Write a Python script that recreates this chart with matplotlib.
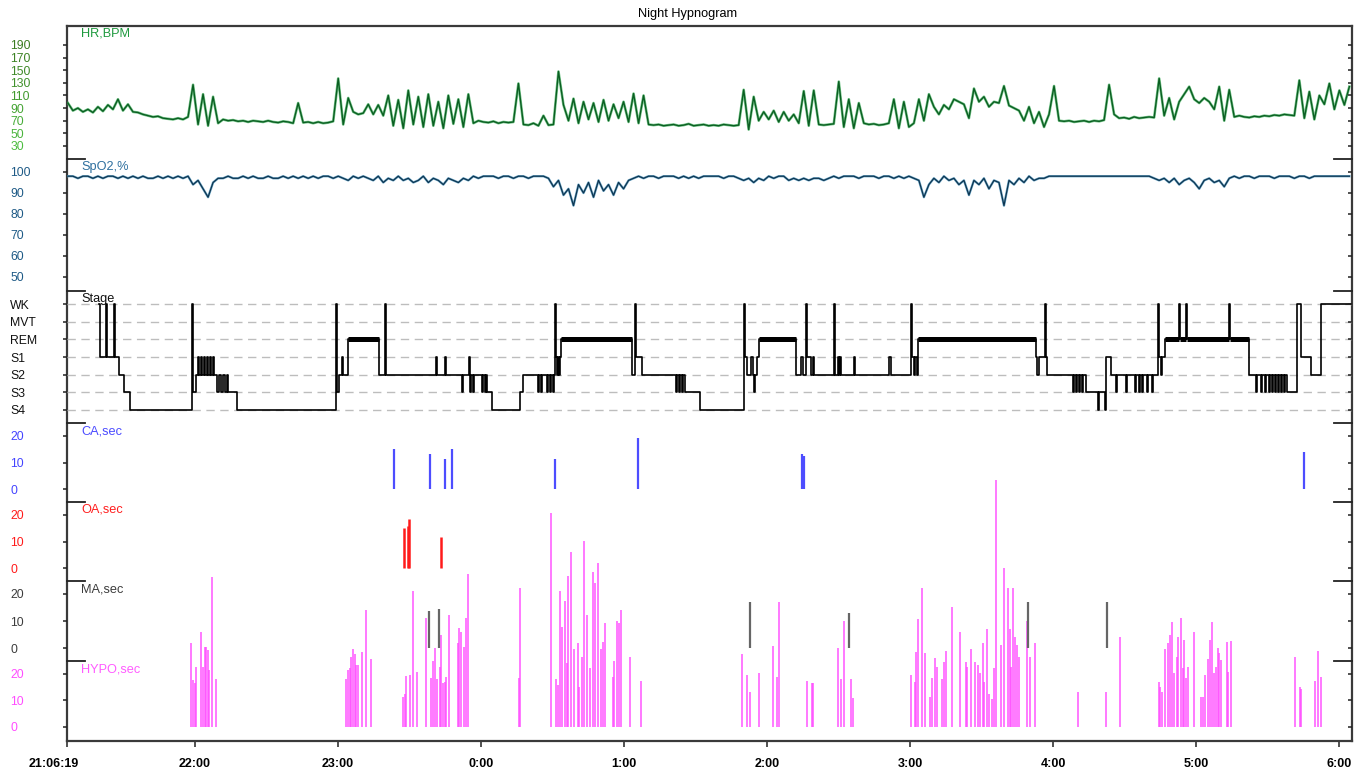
import numpy as np
import matplotlib
matplotlib.use('Agg')
import matplotlib.pyplot as plt
from matplotlib.transforms import ScaledTranslation

plt.rcParams['font.family'] = ['Liberation Sans', 'DejaVu Sans']

# ---------------- data (time unit: minutes after 21:00) ----------------
REC_START = 6.32          # 21:06:19
REC_END = 545.4
TICK_POS = [6.32, 60, 120, 180, 240, 300, 360, 420, 480, 540]
TICK_LABELS = ['21:06:19', '22:00', '23:00', '0:00', '1:00', '2:00', '3:00', '4:00', '5:00', '6:00']

SAMPLE_T0 = 6.7           # first HR / SpO2 sample
SAMPLE_DT = 2.1           # minutes between samples

HR = [98, 86, 90, 84, 88, 83, 92, 85, 95, 88,
      104, 86, 96, 84, 83, 80, 78, 76, 77, 74,
      73, 72, 74, 72, 76, 127, 64, 112, 62, 108,
      66, 72, 70, 71, 69, 70, 68, 70, 69, 68,
      70, 68, 67, 69, 68, 66, 98, 67, 68, 66,
      68, 66, 67, 69, 137, 64, 106, 84, 80, 82,
      96, 80, 95, 78, 110, 62, 103, 58, 118, 64,
      108, 60, 112, 62, 100, 58, 110, 65, 104, 60,
      112, 66, 70, 68, 67, 69, 66, 68, 67, 68,
      129, 64, 63, 66, 62, 78, 63, 64, 148, 95,
      70, 105, 66, 100, 72, 98, 68, 103, 70, 96,
      74, 100, 68, 113, 66, 110, 64, 63, 64, 62,
      63, 64, 62, 63, 65, 62, 63, 64, 62, 63,
      62, 64, 63, 62, 63, 119, 56, 108, 70, 84,
      72, 86, 68, 84, 70, 80, 66, 117, 62, 118,
      64, 63, 64, 65, 132, 60, 104, 58, 98, 66,
      64, 65, 63, 64, 66, 104, 58, 100, 60, 66,
      104, 70, 112, 92, 80, 95, 88, 104, 100, 96,
      74, 121, 100, 108, 92, 100, 98, 125, 94, 90,
      86, 70, 92, 66, 84, 60, 80, 125, 70, 69,
      70, 68, 69, 70, 68, 70, 69, 71, 127, 80,
      74, 75, 73, 76, 74, 75, 76, 75, 137, 78,
      106, 72, 100, 112, 124, 104, 98, 106, 100, 88,
      124, 70, 119, 76, 78, 76, 75, 77, 76, 78,
      77, 79, 78, 80, 79, 78, 134, 74, 116, 72,
      110, 96, 129, 88, 118, 95, 124]

SPO2 = [98, 98, 97, 98, 98, 97, 98, 97, 98, 98,
        97, 98, 97, 98, 97, 98, 97, 97, 98, 97,
        98, 97, 98, 97, 98, 94, 96, 92, 88, 95,
        97, 97, 98, 97, 97, 98, 97, 98, 97, 97,
        98, 97, 97, 98, 97, 98, 97, 98, 97, 98,
        97, 98, 98, 97, 98, 97, 96, 98, 97, 98,
        97, 96, 98, 95, 97, 96, 98, 96, 97, 95,
        96, 98, 95, 97, 96, 94, 97, 96, 95, 97,
        96, 98, 97, 98, 98, 98, 97, 98, 98, 97,
        98, 98, 97, 98, 98, 98, 97, 93, 96, 89,
        92, 84, 94, 90, 95, 88, 96, 91, 94, 89,
        95, 92, 96, 97, 98, 97, 98, 98, 97, 98,
        98, 98, 97, 98, 97, 98, 97, 98, 98, 98,
        98, 97, 98, 98, 97, 96, 97, 95, 97, 96,
        98, 97, 98, 98, 96, 97, 96, 97, 96, 97,
        97, 96, 97, 98, 97, 98, 98, 98, 97, 98,
        98, 98, 97, 98, 98, 97, 98, 97, 98, 97,
        96, 88, 94, 97, 95, 98, 96, 97, 94, 96,
        89, 96, 94, 97, 92, 96, 95, 84, 96, 94,
        97, 95, 98, 96, 97, 97, 98, 98, 98, 98,
        98, 98, 98, 98, 98, 98, 98, 98, 98, 98,
        98, 98, 98, 98, 98, 98, 98, 97, 96, 97,
        95, 97, 94, 96, 97, 95, 92, 96, 97, 95,
        96, 93, 97, 98, 97, 98, 98, 97, 98, 98,
        98, 97, 98, 98, 98, 97, 98, 98, 97, 98,
        98, 98, 98, 98, 98, 98, 98]

STAGE_NAMES = ['S4', 'S3', 'S2', 'S1', 'REM', 'MVT', 'WK']
STAGE_T = [19.7, 20.1, 22.7, 23.1, 26.0, 26.4, 28.1, 30.2, 32.7, 58.7, 59.2, 60.4,
           61.3, 61.7, 62.5, 62.9, 63.8, 64.2, 65.0, 65.5, 66.3, 66.7, 67.6, 68.0,
           69.2, 70.1, 70.9, 71.7, 72.6, 73.4, 73.8, 77.6,
           119.2, 119.6, 120.4, 121.7, 122.1, 124.2, 137.2, 139.7, 140.1, 161.1, 161.5,
           164.9, 165.3, 172.0, 172.4, 175.0, 175.4, 175.8, 176.7, 177.1, 180.4, 180.8,
           181.7, 182.1, 182.5, 184.8,
           196.3, 197.5, 203.9, 204.3, 205.2, 205.6, 207.7, 208.1, 208.9, 209.4, 210.2,
           210.6, 211.0, 211.5, 211.9, 212.3, 212.7, 213.1, 213.7, 243.4, 244.6, 245.0,
           247.6, 261.8, 262.2, 263.1, 263.5, 264.3, 264.7, 265.6, 271.9,
           290.2, 290.8, 291.6, 293.3, 294.1, 294.5, 295.0, 295.8, 296.8, 312.2, 314.3,
           315.1, 316.4, 316.8, 318.5, 319.3, 319.7, 328.1, 328.5, 329.8, 330.2, 330.6,
           331.0, 336.5, 336.9, 351.2, 351.8, 360.4, 360.8, 361.7, 362.1, 362.9, 363.3,
           412.8, 413.3, 414.1, 416.7, 417.1, 417.5, 428.4, 428.8, 429.7, 430.1, 430.9,
           431.3, 432.2, 432.6, 433.9, 438.9, 439.3, 441.8, 442.2, 444.4, 446.5, 446.9,
           450.6, 451.0, 454.4, 454.8, 456.1, 456.5, 457.3, 457.7, 459.4, 459.8, 461.6,
           462.0, 464.1, 464.5, 465.3, 465.7, 467.0, 472.9, 473.3, 475.8, 476.2, 493.9,
           494.3, 502.3,
           505.2, 505.6, 507.3, 507.7, 509.0, 509.4, 510.7, 511.2, 512.0, 512.4, 513.3,
           513.7, 514.5, 514.9, 515.8, 516.2, 517.0, 517.4, 518.3, 522.3, 524.0, 528.2,
           532.4]
STAGE_V = [6, 3, 6, 3, 6, 3, 2, 1, 0, 6, 1, 2,
           3, 2, 3, 2, 3, 2, 3, 2, 3, 2, 3, 2,
           1, 2, 1, 2, 1, 2, 1, 0,
           6, 1, 2, 3, 2, 4, 2, 6, 2, 3, 2,
           3, 2, 1, 2, 3, 1, 2, 1, 2, 1, 2,
           1, 2, 1, 0,
           1, 2, 1, 2, 1, 2, 1, 2, 1, 2, 1,
           2, 6, 3, 2, 3, 2, 3, 4, 2, 6, 3,
           2, 1, 2, 1, 2, 1, 2, 1, 0,
           6, 3, 2, 3, 2, 1, 2, 3, 4, 2, 3,
           2, 6, 3, 2, 3, 2, 6, 2, 3, 2, 3,
           2, 3, 2, 3, 2, 6, 3, 2, 3, 2, 4,
           3, 2, 3, 6, 3, 2, 1, 2, 1, 2, 1,
           2, 1, 2, 1, 0, 1, 0, 3, 2, 1, 2,
           1, 2, 1, 2, 1, 2, 1, 2, 1, 2, 1,
           2, 6, 3, 2, 3, 4, 6, 4, 6, 4, 6,
           4, 2,
           1, 2, 1, 2, 1, 2, 1, 2, 1, 2, 1,
           2, 1, 2, 1, 2, 1, 2, 1, 6, 3, 2,
           6]

CA_T = [143.5, 158.6, 164.9, 167.8, 211.1, 245.9, 314.7, 315.3, 525.3]
CA_V = [15.1, 13.2, 11.4, 15.1, 11.4, 19.2, 13.2, 12.4, 14.0]

OA_T = [147.8, 149.5, 150.0, 163.1]
OA_V = [15.1, 16.0, 18.6, 11.8]

MA_T = [158.3, 162.2, 293.0, 334.5, 409.6, 442.8]
MA_V = [13.8, 14.4, 17.1, 12.8, 17.1, 17.1]

HYPO_T = [58.2, 59.3, 59.9, 60.5, 62.4, 63.5, 64.1, 64.8, 65.3, 65.9, 67.3, 68.7,
          123.2, 124.3, 125.0, 125.6, 126.3, 127.0, 127.7, 128.4, 130.2, 131.6, 133.7,
          147.2, 148.0, 148.7, 150.1, 151.5, 153.2, 157.1, 159.1, 159.9, 160.7, 161.4,
          162.7, 163.2, 164.1, 164.8, 165.4, 166.5, 170.3, 170.9, 171.8, 172.7, 173.5,
          174.4,
          196.0, 196.3, 209.3, 211.5, 212.2, 213.2, 214.1, 215.1, 216.0, 216.7, 217.7,
          218.9, 220.6, 221.3, 222.3, 223.2, 224.4, 225.9, 226.8, 227.8, 229.2, 230.3,
          231.2, 231.9, 235.3, 235.8, 237.0, 238.1, 238.7, 242.3, 247.3,
          289.6, 291.7, 292.7, 296.8, 302.7, 304.2, 305.1, 316.9, 318.8, 319.4, 329.9,
          330.9, 332.4, 335.3, 335.9,
          360.2, 361.9, 362.6, 363.5, 365.0, 366.2, 368.4, 369.3, 370.5, 371.5, 373.2,
          374.4, 375.1, 377.5, 381.1, 383.3, 384.0, 385.5, 387.3, 388.3, 389.5, 390.4,
          391.2, 392.1, 393.1, 394.3, 395.2, 396.0, 398.1, 399.5, 400.9, 401.8, 402.3,
          403.0, 404.0, 404.8, 405.5, 409.0, 410.3, 412.5,
          430.5, 442.4, 448.1,
          464.5, 464.9, 465.6, 466.9, 468.0, 469.0, 469.8, 470.8, 471.8, 472.6, 473.6,
          474.3, 475.0, 475.7, 476.8, 479.2, 482.0, 483.1, 483.8, 484.8, 485.8, 486.6,
          487.3, 488.3, 489.0, 489.7, 490.4, 492.9, 493.3, 494.6,
          521.6, 523.7, 524.2, 529.9, 531.2, 532.3]
HYPO_V = [31.6, 17.7, 16.6, 22.6, 36.0, 22.6, 30.2, 30.2, 29.0, 21.5, 56.7, 18.1,
          18.1, 21.5, 22.1, 26.5, 29.3, 27.4, 23.4, 23.4, 28.4, 44.2, 25.5,
          11.2, 12.5, 19.2, 19.6, 51.4, 20.8, 41.0, 18.4, 24.9, 29.9, 18.0,
          22.8, 34.7, 16.5, 17.1, 19.0, 42.3, 31.6, 37.2, 36.0, 30.3, 41.0,
          57.7,
          18.5, 52.6, 80.6, 18.0, 15.8, 51.4, 37.8, 47.7, 24.3, 57.0, 66.2,
          29.3, 31.8, 15.2, 26.3, 70.3, 42.3, 22.1, 58.6, 54.2, 61.8, 29.3,
          32.2, 39.1, 19.0, 25.0, 40.1, 39.4, 44.2, 26.3, 17.4,
          27.4, 19.6, 13.3, 20.3, 30.7, 19.0, 47.3, 17.4, 16.7, 16.5, 29.7,
          18.0, 40.0, 18.0, 10.8,
          19.6, 17.1, 28.4, 40.6, 52.6, 27.8, 11.2, 18.4, 25.9, 22.8, 18.0,
          24.4, 28.8, 45.2, 36.0, 24.4, 22.5, 29.3, 24.4, 23.4, 20.5, 31.8,
          17.1, 36.9, 12.5, 10.5, 22.1, 93.2, 30.9, 59.9, 52.3, 36.9, 22.5,
          52.3, 33.8, 30.9, 26.5, 40.1, 26.5, 31.8,
          13.3, 13.3, 33.8,
          17.1, 15.2, 13.3, 29.3, 31.8, 34.7, 39.7, 20.3, 26.5, 33.8, 41.0,
          22.1, 32.8, 18.4, 22.5, 36.0, 11.4, 11.4, 19.6, 25.5, 32.8, 39.7,
          20.5, 22.8, 29.7, 27.8, 25.3, 32.2, 20.9, 32.6,
          26.5, 15.0, 14.2, 17.5, 28.8, 19.0]

# ---------------- layout helpers ----------------
W, H = 1362, 771
LEFT, RIGHT = 67, 1352
fig = plt.figure(figsize=(W / 100, H / 100), dpi=100)


def rect(top, bottom):
    return [LEFT / W, 1 - bottom / H, (RIGHT - LEFT) / W, (bottom - top) / H]


frame = fig.add_axes(rect(26, 741), zorder=0)
frame.set_xlim(REC_START, REC_END)
frame.set_ylim(0, 1)
frame.set_yticks([])
frame.set_xticks(TICK_POS)
frame.set_xticklabels(TICK_LABELS, fontweight='bold')
frame.tick_params(axis='x', direction='out', length=4, width=1.2, pad=8.5,
                  labelsize=9, color='#333333')
for sp in frame.spines.values():
    sp.set_linewidth(1.6)
    sp.set_color('#3a3a3a')
lab0 = frame.get_xticklabels()[0]
lab0.set_transform(lab0.get_transform() + ScaledTranslation(-0.13, 0, fig.dpi_scale_trans))

fig.text(688 / W, 1 - 14 / H, 'Night Hypnogram', ha='center', va='center', fontsize=9.2)


def panel(top, bottom, ylo, yhi, ticks, labels, lab_colors, name, name_color,
          marker=True, z=2):
    ax = fig.add_axes(rect(top, bottom), zorder=z)
    ax.set_xlim(REC_START, REC_END)
    ax.set_ylim(ylo, yhi)
    ax.patch.set_visible(False)
    for sp in ax.spines.values():
        sp.set_visible(False)
    ax.set_xticks([])
    ax.set_yticks(ticks)
    ax.set_yticklabels(labels)
    ax.tick_params(axis='y', direction='out', length=2.9, width=1.1, pad=38,
                   labelsize=8.8, color='#222222')
    for lab, c in zip(ax.get_yticklabels(), lab_colors):
        lab.set_ha('left')
        lab.set_color(c)
    r = ax.twinx()
    r.set_ylim(ylo, yhi)
    r.set_yticks(ticks)
    r.set_yticklabels([])
    r.tick_params(axis='y', direction='in', length=2.9, width=1.1, color='#222222')
    for sp in r.spines.values():
        sp.set_visible(False)
    r.set_zorder(z)
    hpx = bottom - top
    ax.text(14 / (RIGHT - LEFT), 1 - 8 / hpx, name, transform=ax.transAxes,
            ha='left', va='center', fontsize=9.2, color=name_color)
    if marker:
        f = 18 / (RIGHT - LEFT)
        ax.plot([0, f], [1, 1], transform=ax.transAxes, color='#222222', lw=1.3,
                clip_on=False)
        ax.plot([1 - f, 1], [1, 1], transform=ax.transAxes, color='#222222', lw=1.3,
                clip_on=False)
    return ax


# ---------------- HR ----------------
hr_ticks = [30, 50, 70, 90, 110, 130, 150, 170, 190]
hr_cols = ['#4cbc3f', '#4ab43c', '#47ac38', '#45a434', '#439b30', '#41922c', '#3f8a28',
           '#3d8324', '#3b7c20']
ax_hr = panel(26, 159, 9.3, 220.1, hr_ticks, [str(v) for v in hr_ticks], hr_cols,
              'HR,BPM', '#1f9a3f', marker=False)
t_s = SAMPLE_T0 + SAMPLE_DT * np.arange(len(HR))
ax_hr.plot(t_s, HR, color='#3aae58', lw=1.9, alpha=0.7)
ax_hr.plot(t_s, HR, color='#0b5e22', lw=1.0)

# ---------------- SpO2 ----------------
sp_ticks = [50, 60, 70, 80, 90, 100]
ax_sp = panel(159, 291, 43.33, 106.19, sp_ticks, [str(v) for v in sp_ticks],
              ['#1e5a86'] * 6, 'SpO2,%', '#2e6f9e')
t_s2 = SAMPLE_T0 + SAMPLE_DT * np.arange(len(SPO2))
ax_sp.plot(t_s2, SPO2, color='#4a93bb', lw=1.7, alpha=0.8)
ax_sp.plot(t_s2, SPO2, color='#0e3550', lw=0.9)

# ---------------- Stage ----------------
ax_st = panel(291, 423, -0.736, 6.736, list(range(7)), STAGE_NAMES, ['#111111'] * 7,
              'Stage', '#111111')
ax_st.hlines(range(7), REC_START, REC_END, colors='#bdbdbd', linestyles=(0, (6, 4)),
             lw=1.0, zorder=1)
st_t = STAGE_T + [REC_END - 0.3]
st_v = STAGE_V + [STAGE_V[-1]]
ax_st.step(st_t, st_v, where='post', color='black', lw=1.2, zorder=3)
for i, v in enumerate(STAGE_V):
    if STAGE_NAMES[v] == 'REM':
        ax_st.hlines(v, st_t[i], st_t[i + 1], color='black', lw=3.6, zorder=4)

# ---------------- events ----------------
ax_hy = panel(661, 741, -5.3, 24.9, [0, 10, 20], ['0', '10', '20'], ['#ff4dff'] * 3,
              'HYPO,sec', '#ff5cff', z=1)
ax_hy.vlines(HYPO_T, 0, HYPO_V, color='#ff4dff', lw=1.4, alpha=0.75, clip_on=False)

ax_ma = panel(581, 661, -4.8, 24.8, [0, 10, 20], ['0', '10', '20'], ['#3c3c3c'] * 3,
              'MA,sec', '#3c3c3c')
ax_ma.vlines(MA_T, 0, MA_V, color='#666666', lw=1.6, clip_on=False)

ax_oa = panel(502, 581, -4.9, 24.9, [0, 10, 20], ['0', '10', '20'], ['#ff1a1a'] * 3,
              'OA,sec', '#ff1f1f')
ax_oa.vlines(OA_T, 0, OA_V, color='#ff1a1a', lw=1.8, clip_on=False)

ax_ca = panel(423, 502, -4.9, 24.9, [0, 10, 20], ['0', '10', '20'], ['#4444ff'] * 3,
              'CA,sec', '#4b4bff')
ax_ca.vlines(CA_T, 0, CA_V, color='#4d4dff', lw=1.6, clip_on=False)

fig.savefig('out.png', dpi=100)
